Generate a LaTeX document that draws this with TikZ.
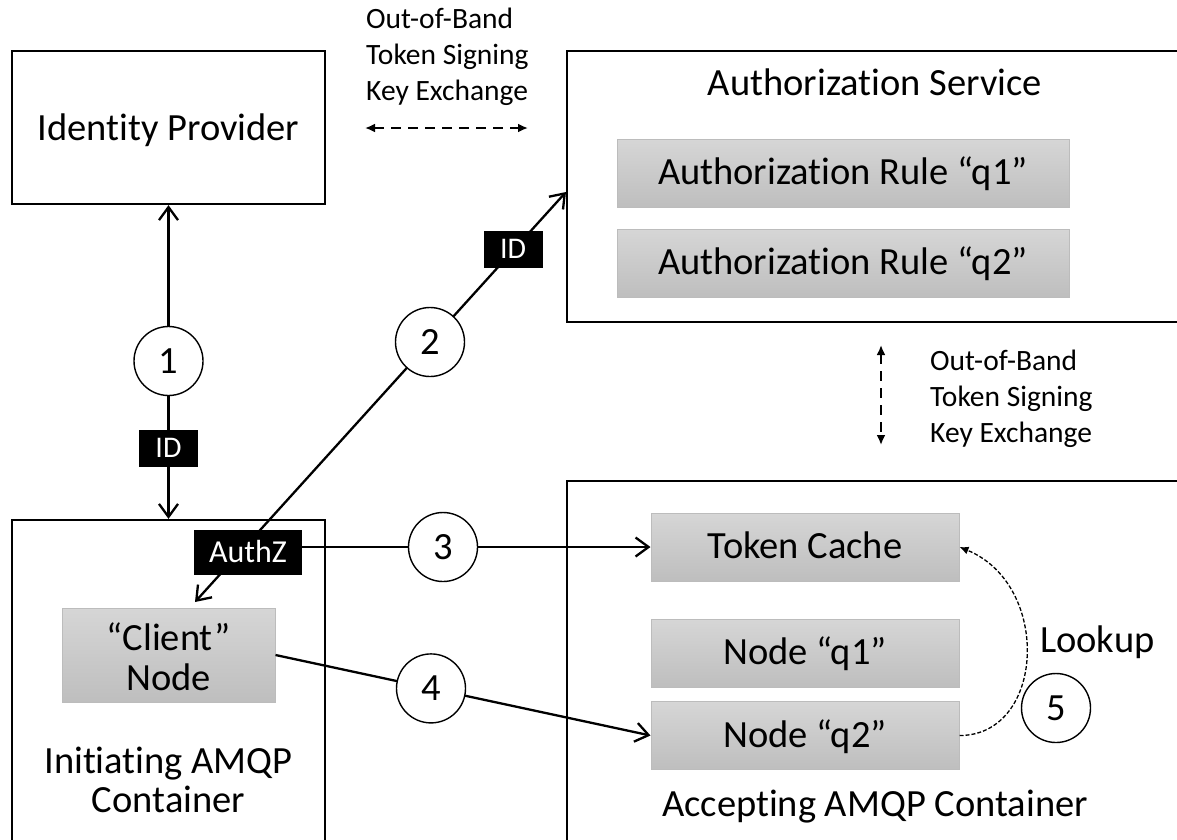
\documentclass[tikz,border=0pt]{standalone}
\usepackage{fontspec}
\setmainfont{Carlito}[Ligatures=NoCommon]
\usetikzlibrary{arrows.meta}
\definecolor{boxtop}{RGB}{214,214,214}
\definecolor{boxbot}{RGB}{190,190,190}
\definecolor{boxline}{RGB}{188,188,188}
\begin{document}
\begin{tikzpicture}[x=1pt,y=-1pt, font=\fontsize{38.5}{40}\selectfont,
  container/.style={draw=black, line width=2.3pt, inner sep=0pt},
  graybox/.style={draw=boxline, line width=1pt, top color=boxtop, bottom color=boxbot, inner sep=0pt, text height=27pt, text depth=4pt},
  numcircle/.style={draw=black, line width=1.4pt, fill=white, circle, minimum size=69pt, inner sep=0pt, text height=24pt, text depth=0pt},
  tag/.style={fill=black, text=white, inner sep=0pt, text depth=0pt},
  conn/.style={line width=2.3pt},
  oobtext/.style={anchor=base west, align=left, inner sep=0pt, font=\fontsize{29.5}{36}\selectfont},
  dashx/.style={line width=2.3pt, dash pattern=on 10pt off 7pt, {Latex[length=10pt,width=9pt]}-{Latex[length=10pt,width=9pt]}},
  >={Straight Barb[length=13pt,width=19pt]}
  ]
\useasboundingbox (0,0) rectangle (1177,839);
\clip (0,0) rectangle (1177,839);

% containers
\node[container, minimum width=313pt, minimum height=153pt] (ip) at (168.5,127.5) {};
\node[anchor=base] (iptxt) at (168.5,140) {Identity Provider};

\node[container, minimum width=640pt, minimum height=271pt] (as) at (887,186.5) {};
\node[anchor=base] (astxt) at (875,95) {Authorization Service};
\node[graybox, minimum width=452pt, minimum height=68pt] (r1) at (843,173) {Authorization Rule “q1”};
\node[graybox, minimum width=452pt, minimum height=68pt] (r2) at (843,263) {Authorization Rule “q2”};

\node[container, minimum width=313pt, minimum height=380pt] (ini) at (168.5,710) {};
\node[anchor=base, align=center, font=\fontsize{38.5}{39}\selectfont] (initxt) at (168.5,812) {Initiating AMQP\\Container};
\node[graybox, minimum width=213pt, minimum height=94pt] (cn) at (168.5,655) {};
\node[anchor=base, align=center] (cntxt) at (168.5,690) {“Client”\\Node};

\node[container, minimum width=640pt, minimum height=419pt] (ac) at (887,690.5) {};
\node[anchor=base] (actxt) at (875,816) {Accepting AMQP Container};
\node[graybox, minimum width=308pt, minimum height=68pt] (tc) at (805,547) {Token Cache};
\node[graybox, minimum width=308pt, minimum height=68pt] (q1) at (805,653) {Node “q1”};
\node[graybox, minimum width=308pt, minimum height=68pt] (q2) at (805,735.5) {Node “q2”};

% out-of-band exchanges
\node[oobtext] (oob1) at (366,100) {Out-of-Band\\Token Signing\\Key Exchange};
\coordinate (d1a) at (365,128);
\coordinate (d1b) at (528,128);
\draw[dashx] (d1a) -- (d1b);

\node[oobtext] (oob2) at (930,442) {Out-of-Band\\Token Signing\\Key Exchange};
\coordinate (d2a) at (881,345);
\coordinate (d2b) at (881,445);
\draw[dashx] (d2a) -- (d2b);

% connectors
\draw[conn,<->] (ip.south) -- (ini.north);

\coordinate (e2a) at (566,192);
\coordinate (e2b) at (195,602);
\draw[conn,<->] (e2b) -- (e2a);

\node[tag, minimum width=108pt, minimum height=45pt, font=\fontsize{32}{34}\selectfont, text height=20pt] (authz) at (248,552) {AuthZ};

\draw[conn,->] (authz.center |- tc.west) -- (tc.west);
\draw[conn,->] (cn.east) -- (q2.west);

\draw[line width=1.3pt, dash pattern=on 4pt off 2pt, -{Latex[length=9pt,width=8pt]}] (q2.east) .. controls (1045,735.5) and (1052,585) .. (tc.east);
\node[anchor=base west, inner sep=0pt] (lk) at (1040,652) {Lookup};

% circles
\node[numcircle] (c1) at (168.5,361) {1};
\node[numcircle] (c2) at (430,342) {2};
\node[numcircle] (c3) at (443,547) {3};
\node[numcircle] (c4) at (431,688.4) {4};
\node[numcircle] (c5) at (1056,708) {5};

% tags
\node[tag, minimum width=59pt, minimum height=37pt, font=\fontsize{30}{32}\selectfont, text height=19pt] (id1) at (168.5,448) {ID};
\node[tag, minimum width=59pt, minimum height=37pt, font=\fontsize{30}{32}\selectfont, text height=19pt] (id2) at (513,249) {ID};
\node[tag, minimum width=108pt, minimum height=45pt, font=\fontsize{32}{34}\selectfont, text height=20pt] at (authz) {AuthZ};
\end{tikzpicture}
\end{document}
